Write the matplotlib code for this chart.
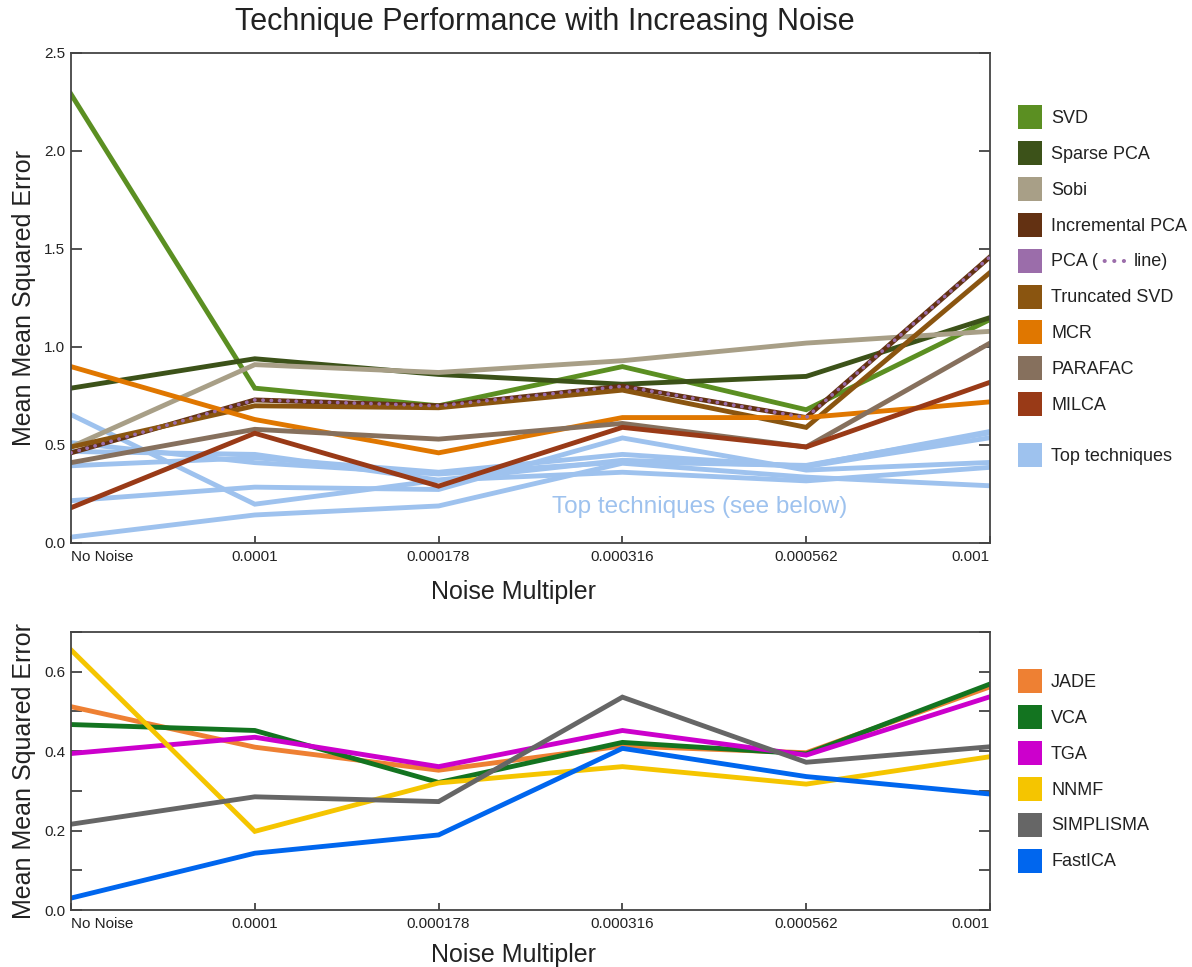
import matplotlib
matplotlib.use('Agg')
import matplotlib.pyplot as plt
import matplotlib.ticker as mtick
from matplotlib.patches import Patch

plt.rcParams['font.family'] = ['Liberation Sans', 'DejaVu Sans']
plt.rcParams['text.color'] = '#222222'
plt.rcParams['axes.labelcolor'] = '#222222'
plt.rcParams['xtick.color'] = '#222222'
plt.rcParams['ytick.color'] = '#222222'

# data
noise_labels = ['No Noise', '0.0001', '0.000178', '0.000316', '0.000562', '0.001']

svd = [2.29, 0.79, 0.70, 0.90, 0.68, 1.14]
sparse_pca = [0.79, 0.94, 0.86, 0.81, 0.85, 1.15]
sobi = [0.49, 0.91, 0.87, 0.93, 1.02, 1.08]
incremental_pca = [0.46, 0.73, 0.70, 0.80, 0.64, 1.46]
pca = [0.46, 0.73, 0.70, 0.80, 0.64, 1.46]
truncated_svd = [0.49, 0.70, 0.69, 0.78, 0.59, 1.38]
mcr = [0.90, 0.63, 0.46, 0.64, 0.64, 0.72]
parafac = [0.41, 0.58, 0.53, 0.61, 0.49, 1.02]
milca = [0.18, 0.56, 0.29, 0.59, 0.49, 0.82]

jade = [0.512, 0.410, 0.352, 0.413, 0.396, 0.562]
vca = [0.467, 0.452, 0.321, 0.422, 0.393, 0.569]
tga = [0.394, 0.435, 0.361, 0.452, 0.390, 0.537]
nnmf = [0.655, 0.198, 0.320, 0.361, 0.317, 0.386]
simplisma = [0.216, 0.285, 0.273, 0.536, 0.372, 0.411]
fastica = [0.030, 0.143, 0.189, 0.407, 0.336, 0.292]

top_names = ['SVD', 'Sparse PCA', 'Sobi', 'Incremental PCA', 'PCA', 'Truncated SVD',
             'MCR', 'PARAFAC', 'MILCA']
top_series = [svd, sparse_pca, sobi, incremental_pca, pca, truncated_svd, mcr, parafac, milca]
top_colours = ['#5B8F22', '#3C5219', '#A89F87', '#633112', '#9B6DAA', '#8A5510',
               '#E07700', '#86705D', '#993A17']
best_colour = '#9EC2EE'

bottom_names = ['JADE', 'VCA', 'TGA', 'NNMF', 'SIMPLISMA', 'FastICA']
bottom_series = [jade, vca, tga, nnmf, simplisma, fastica]
bottom_colours = ['#EE8033', '#137420', '#CC00CC', '#F5C500', '#666666', '#0066EE']

x = list(range(len(noise_labels)))
lw = 3.5

fig = plt.figure(figsize=(11.92, 9.67), dpi=100)
ax_top = fig.add_axes([71 / 1192, 1 - 543 / 967, 919 / 1192, 490 / 967])
ax_bot = fig.add_axes([71 / 1192, 1 - 910 / 967, 919 / 1192, 278 / 967])


def style_axis(ax, xlabel_y):
    for sp in ax.spines.values():
        sp.set_color('#444444')
        sp.set_linewidth(1.3)
    ax.set_xlim(x[0], x[-1])
    ax.set_xticks(x)
    ax.set_xticklabels(noise_labels)
    labels = ax.get_xticklabels()
    labels[0].set_horizontalalignment('left')
    labels[-1].set_horizontalalignment('right')
    ax.tick_params(axis='x', direction='in', length=5, width=1.2, labelsize=11, pad=5,
                   color='#333333')
    ax.tick_params(axis='y', which='both', direction='in', length=8, width=1.2,
                   labelsize=11, pad=4, right=True, color='#333333')
    ax.set_xlabel('Noise Multipler', fontsize=18)
    ax.xaxis.set_label_coords(0.482, xlabel_y)
    ax.set_ylabel('Mean Mean Squared Error', fontsize=18, labelpad=6)


# top plot: best techniques in light blue underneath
for s in bottom_series:
    ax_top.plot(x, s, color=best_colour, linewidth=lw, solid_joinstyle='miter')

for name, s, c in zip(top_names, top_series, top_colours):
    if name == 'PCA':
        ax_top.plot(x, s, color=c, linewidth=2.6, linestyle=(0, (0.1, 2.2)),
                    dash_capstyle='round', zorder=5)
    else:
        ax_top.plot(x, s, color=c, linewidth=lw, solid_joinstyle='miter')

ax_top.set_ylim(0, 2.5)
ax_top.yaxis.set_major_locator(mtick.MultipleLocator(0.5))
ax_top.yaxis.set_major_formatter(mtick.FormatStrFormatter('%.1f'))
style_axis(ax_top, -0.075)
ax_top.text(0.684, 0.073, 'Top techniques (see below)', color=best_colour, fontsize=17.5,
            ha='center', va='center', transform=ax_top.transAxes)

# bottom plot
for s, c in zip(bottom_series, bottom_colours):
    ax_bot.plot(x, s, color=c, linewidth=lw, solid_joinstyle='miter')
ax_bot.set_ylim(0, 0.7)
ax_bot.yaxis.set_major_locator(mtick.MultipleLocator(0.2))
ax_bot.yaxis.set_minor_locator(mtick.MultipleLocator(0.1))
ax_bot.yaxis.set_major_formatter(mtick.FormatStrFormatter('%.1f'))
style_axis(ax_bot, -0.12)

fig.text(545 / 1192, 1 - 22 / 967, 'Technique Performance with Increasing Noise',
         fontsize=22, ha='center', va='center')

# legends
leg_kw = dict(frameon=False, fontsize=13, handlelength=1.33, handleheight=1.667,
              handletextpad=0.5, labelspacing=0.66, borderaxespad=0, borderpad=0,
              loc='upper left')
top_labels = [n if n != 'PCA' else 'PCA (' for n in top_names]
h1 = [Patch(facecolor=c, edgecolor='none') for c in top_colours]
leg1 = fig.legend(h1, top_labels, bbox_to_anchor=(1018 / 1192, 1 - 105 / 967), **leg_kw)
leg2 = fig.legend([Patch(facecolor=best_colour, edgecolor='none')], ['Top techniques'],
                  bbox_to_anchor=(1018 / 1192, 1 - 443 / 967), **leg_kw)
h3 = [Patch(facecolor=c, edgecolor='none') for c in bottom_colours]
leg3 = fig.legend(h3, bottom_names, bbox_to_anchor=(1018 / 1192, 1 - 669 / 967), **leg_kw)

# purple dots and the rest of the PCA legend label
fig.canvas.draw()
renderer = fig.canvas.get_renderer()
pca_text = leg1.get_texts()[top_names.index('PCA')]
bb = pca_text.get_window_extent(renderer)
y_mid = (bb.y0 + bb.y1) / 2 / 967
fig.text((bb.x1 + 4) / 1192, y_mid, '\u2022 \u2022 \u2022',
         color=top_colours[top_names.index('PCA')], fontsize=11, va='center', ha='left')
fig.text((bb.x1 + 36) / 1192, y_mid, 'line)', fontsize=13, va='center', ha='left')

fig.savefig('out.png', dpi=100)
